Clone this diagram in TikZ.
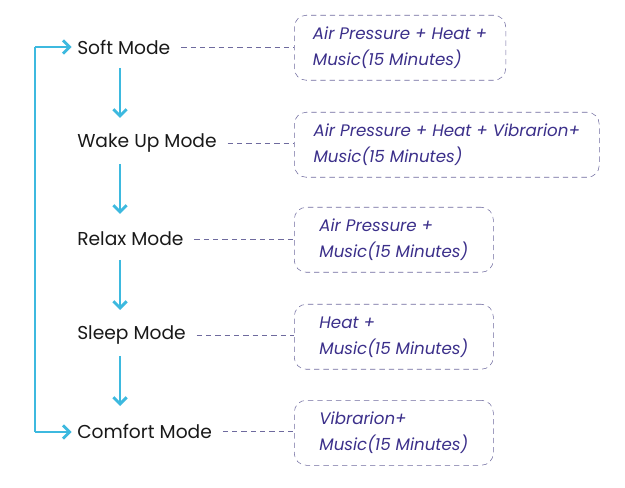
\documentclass[tikz,border=0pt]{standalone}
\usepackage{fontspec}
\setmainfont{Poppins}
\usetikzlibrary{arrows.meta}
\definecolor{cy}{HTML}{3DB9DF}
\definecolor{pu}{HTML}{3B2F8A}
\definecolor{bd}{HTML}{6E6A9E}
\begin{document}
\begin{tikzpicture}[x=0.75pt,y=-0.75pt,
  mode/.style={anchor=west,inner sep=0pt,font=\fontsize{14}{16}\selectfont,text=black!90},
  box/.style={draw=bd,dashed,dash pattern=on 4pt off 3pt,rounded corners=9pt,anchor=north west,
    align=left,inner xsep=14pt,inner ysep=0pt,minimum height=48.75pt,text=pu,
    font=\fontsize{12.5}{19.5}\selectfont\itshape},
  link/.style={draw=bd,dash pattern=on 4pt off 3pt,thin},
  ln/.style={draw=cy,line width=2.2pt},
  ar/.style={draw=cy,line width=2.2pt,-{Straight Barb[length=5pt,width=10pt,line width=2.2pt]}}]
\useasboundingbox (0,0) rectangle (625,488);
\node[mode] (m1) at (77,47) {Soft Mode};
\node[mode] (m2) at (77,143) {Wake Up Mode};
\node[mode] (m3) at (77,239) {Relax Mode};
\node[mode] (m4) at (77,335) {Sleep Mode};
\node[mode] (m5) at (77,431) {Comfort Mode};
\node[box,minimum width=156.75pt] (b1) at (294,15) {Air Pressure + Heat +\\Music(15 Minutes)};
\node[box,minimum width=228.75pt] (b2) at (294,112) {Air Pressure + Heat + Vibrarion+\\Music(15 Minutes)};
\node[box,minimum width=149.25pt] (b3) at (294,207) {Air Pressure +\\Music(15 Minutes)};
\node[box,minimum width=149.25pt] (b4) at (294,304) {Heat +\\Music(15 Minutes)};
\node[box,minimum width=149.25pt] (b5) at (294,400) {Vibrarion+\\Music(15 Minutes)};
\foreach \i in {1,...,5}{\draw[link] ([xshift=8pt]m\i.east) -- (m\i.east -| b\i.west);}
\coordinate (d1) at (120,68); \coordinate (e1) at (120,118);
\coordinate (d2) at (120,164); \coordinate (e2) at (120,214);
\coordinate (d3) at (120,260); \coordinate (e3) at (120,310);
\coordinate (d4) at (120,356); \coordinate (e4) at (120,406);
\foreach \i in {1,...,4}{\draw[ar] (d\i) -- (e\i);}
\coordinate (l1) at (35,47); \coordinate (l2) at (35,432);
\draw[ln] (l1) -- (l2);
\draw[ar] (l1) -- ([xshift=-4pt]m1.west);
\draw[ar] (l2) -- ([xshift=-4pt]m5.west |- l2);
\end{tikzpicture}
\end{document}
